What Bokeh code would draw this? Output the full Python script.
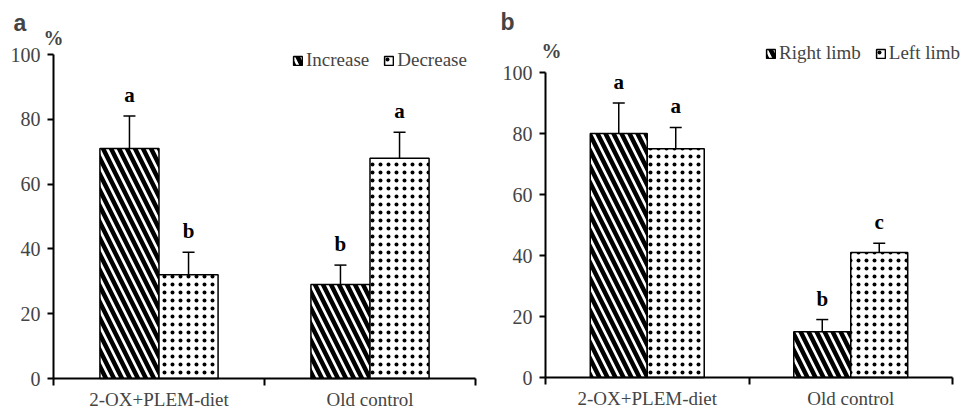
from bokeh.plotting import figure
from bokeh.layouts import row
from bokeh.models import (ColumnDataSource, FixedTicker, Whisker, TeeHead, Label, Legend,
                          LegendItem, Range1d, LinearAxis)
from bokeh.core.properties import value
from bokeh.embed import file_html
from bokeh.resources import INLINE

categories = ["2-OX+PLEM-diet", "Old control"]

# Panel a
a_series = ["Increase", "Decrease"]
a_increase = [71, 29]
a_increase_err = [10, 6]
a_decrease = [32, 68]
a_decrease_err = [7, 8]
a_inc_letters = ["a", "b"]
a_dec_letters = ["b", "a"]

# Panel b
b_series = ["Right limb", "Left limb"]
b_right = [80, 15]
b_right_err = [10, 4]
b_left = [75, 41]
b_left_err = [7, 3]
b_right_letters = ["a", "b"]
b_left_letters = ["a", "c"]

y_ticks = [0, 20, 40, 60, 80, 100]

SERIF = "Liberation Serif"
SANS = "Liberation Sans"
W = 0.28


def make_panel(panel_label, names, v1, e1, l1, v2, e2, l2, width, height, zero_px,
               axis_px, px_per_x, px_per_y, legend_xy, pct_off, lab_off):
    x0 = -axis_px / px_per_x
    x1_ = (width - axis_px) / px_per_x
    y0 = -(height - zero_px) / px_per_y
    y1_ = zero_px / px_per_y
    p = figure(width=width, height=height, output_backend="svg", toolbar_location=None,
               x_range=Range1d(x0, x1_), y_range=Range1d(y0, y1_),
               x_axis_location=None, y_axis_location=None,
               min_border_left=0, min_border_right=0, min_border_top=0, min_border_bottom=0)
    p.title = None
    p.outline_line_color = None
    p.grid.visible = False
    p.background_fill_color = "white"
    p.border_fill_color = "white"

    centers = [i + 0.5 for i in range(len(categories))]
    xa = [c - W / 2 for c in centers]
    xb = [c + W / 2 for c in centers]
    s1 = ColumnDataSource(dict(x=xa, top=v1, up=[v + e for v, e in zip(v1, e1)],
                               lo=[v - e for v, e in zip(v1, e1)], lab=l1))
    s2 = ColumnDataSource(dict(x=xb, top=v2, up=[v + e for v, e in zip(v2, e2)],
                               lo=[v - e for v, e in zip(v2, e2)], lab=l2))

    r1 = p.vbar(x="x", top="top", bottom=0, width=W, source=s1, fill_color="white",
                line_color="black", line_width=1.5, hatch_pattern="\\", hatch_color="black",
                hatch_weight=4.5, hatch_scale=16)
    r2 = p.vbar(x="x", top="top", bottom=0, width=W, source=s2, fill_color="white",
                line_color="black", line_width=1.5, hatch_pattern=".", hatch_color="black",
                hatch_weight=6, hatch_scale=8)

    for s in (s1, s2):
        p.add_layout(Whisker(source=s, base="x", upper="up", lower="lo", line_width=1.5,
                             upper_head=TeeHead(size=12, line_width=1.5),
                             lower_head=TeeHead(size=12, line_width=1.5)))
        p.text(x="x", y="up", text="lab", source=s, text_align="center",
               text_baseline="bottom", y_offset=-9, text_font=value(SERIF),
               text_font_style="bold", text_font_size="21px", text_color="black")

    yax = LinearAxis(fixed_location=0, bounds=(0, 100), ticker=FixedTicker(ticks=y_ticks))
    yax.minor_tick_line_color = None
    yax.major_tick_out = 6
    yax.major_tick_in = 0
    yax.axis_line_width = 2
    yax.major_tick_line_width = 2
    yax.major_label_text_font = SERIF
    yax.major_label_text_font_size = "20px"
    yax.major_label_standoff = 7
    p.add_layout(yax, "left")

    xax = LinearAxis(fixed_location=0, bounds=(0, 2),
                     ticker=FixedTicker(ticks=centers, minor_ticks=[0, 1, 2]))
    xax.major_label_overrides = {c: n for c, n in zip(centers, categories)}
    xax.major_tick_line_color = None
    xax.major_tick_out = 0
    xax.major_tick_in = 0
    xax.minor_tick_out = 7
    xax.minor_tick_in = 0
    xax.minor_tick_line_width = 2
    xax.axis_line_width = 2
    xax.major_label_text_font = SERIF
    xax.major_label_text_font_size = "19px"
    xax.major_label_standoff = 3
    p.add_layout(xax, "below")

    legend = Legend(items=[LegendItem(label=names[0], renderers=[r1]),
                           LegendItem(label=names[1], renderers=[r2])],
                    orientation="horizontal", location=legend_xy,
                    label_text_font=SERIF, label_text_font_size="19px",
                    glyph_width=11, glyph_height=11, spacing=14, padding=0,
                    label_standoff=3, border_line_color=None, background_fill_alpha=0,
                    margin=0)
    p.add_layout(legend)

    p.add_layout(Label(x=0, y=100, x_offset=pct_off[0], y_offset=pct_off[1], text="%",
                       text_font=SERIF, text_font_style="bold", text_font_size="20px",
                       text_align="center", text_baseline="middle"))
    p.add_layout(Label(x=0, y=100, x_offset=lab_off[0], y_offset=lab_off[1], text=panel_label,
                       text_font=SANS, text_font_style="bold", text_font_size="23px",
                       text_align="left", text_baseline="middle"))
    return p


pa = make_panel("a", a_series, a_increase, a_increase_err, a_inc_letters,
                a_decrease, a_decrease_err, a_dec_letters,
                width=486, height=412, zero_px=378, axis_px=53, px_per_x=211, px_per_y=3.24,
                legend_xy=(292, 341), pct_off=(0, 17), lab_off=(-40, 32))
pb = make_panel("b", b_series, b_right, b_right_err, b_right_letters,
                b_left, b_left_err, b_left_letters,
                width=487, height=412, zero_px=377, axis_px=59, px_per_x=203.5, px_per_y=3.05,
                legend_xy=(279, 348), pct_off=(6, 22), lab_off=(-45, 51))

layout = row(pa, pb, spacing=0)
open("out.html", "w").write(file_html(layout, INLINE))
